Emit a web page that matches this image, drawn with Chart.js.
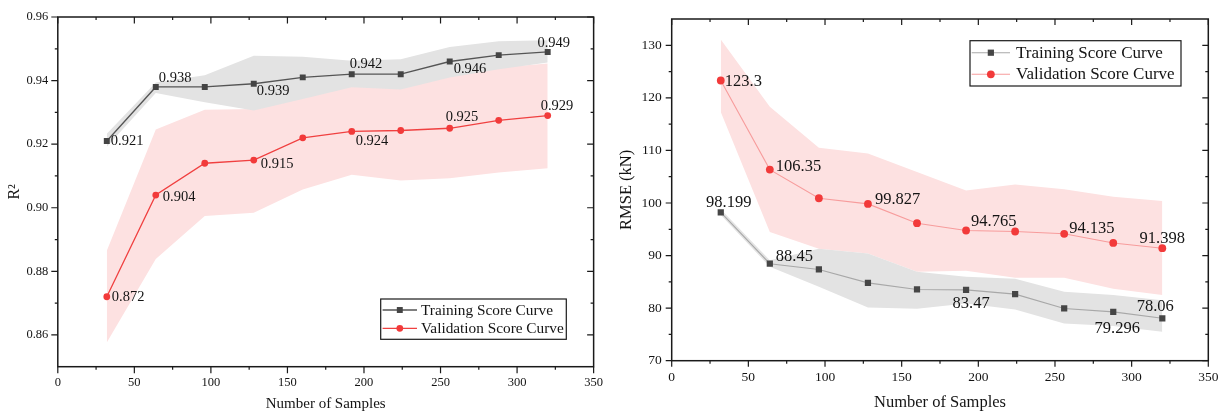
<!DOCTYPE html>
<html>
<head>
<meta charset="utf-8">
<script src="https://cdn.jsdelivr.net/npm/chart.js@4.4.0/dist/chart.umd.min.js"></script>
<style>
  html, body { margin: 0; padding: 0; background: #fff; }
  #wrap { position: relative; width: 1228px; height: 415px; overflow: hidden; background: #fff; }
  #c1 { position: absolute; left: 0; top: 0; }
  #c2 { position: absolute; left: 612px; top: 0; }
</style>
</head>
<body>
<div id="wrap">
  <canvas id="c1" width="612" height="415"></canvas>
  <canvas id="c2" width="616" height="415"></canvas>
</div>
<script>
// Training-set sizes used for the learning curves
const samples = [32, 64, 96, 128, 160, 192, 224, 256, 288, 320];

// R² learning curves (mean and band limits)
const trainR2      = [0.921, 0.938, 0.938, 0.939, 0.941, 0.942, 0.942, 0.946, 0.948, 0.949];
const trainR2Upper = [0.9233, 0.9394, 0.9417, 0.9478, 0.9475, 0.9462, 0.9467, 0.9506, 0.9524, 0.9527];
const trainR2Lower = [0.9192, 0.9361, 0.9332, 0.9306, 0.9342, 0.9379, 0.9372, 0.9410, 0.9436, 0.9457];
const valR2        = [0.872, 0.904, 0.914, 0.915, 0.922, 0.924, 0.9243, 0.925, 0.9275, 0.929];
const valR2Upper   = [0.8865, 0.9246, 0.9308, 0.9311, 0.9382, 0.9389, 0.9403, 0.9420, 0.9441, 0.9454];
const valR2Lower   = [0.8576, 0.8839, 0.8974, 0.8984, 0.9057, 0.9104, 0.9086, 0.9093, 0.9111, 0.9124];

// RMSE learning curves in kN (mean and band limits)
const trainRMSE      = [98.199, 88.45, 87.36, 84.8, 83.55, 83.47, 82.66, 79.94, 79.296, 78.06];
const trainRMSEUpper = [98.8, 89.1, 91.3, 90.4, 86.9, 85.95, 85.6, 83.1, 82.5, 81.5];
const trainRMSELower = [97.7, 87.85, 84.05, 80.1, 79.9, 80.9, 79.75, 77.1, 76.6, 75.5];
const valRMSE        = [123.3, 106.35, 100.9, 99.827, 96.16, 94.765, 94.58, 94.135, 92.4, 91.398];
const valRMSEUpper   = [131.1, 118.3, 110.5, 109.4, 105.9, 102.4, 103.5, 102.6, 101.2, 100.4];
const valRMSELower   = [117.3, 94.5, 91.3, 90.4, 86.9, 87.1, 85.8, 85.8, 83.7, 82.5];

// Axis tick values
const xTicks    = [0, 50, 100, 150, 200, 250, 300, 350];
const r2Ticks   = [0.86, 0.88, 0.90, 0.92, 0.94, 0.96];
const rmseTicks = [70, 80, 90, 100, 110, 120, 130];

const seriesNames = ['Training Score Curve', 'Validation Score Curve'];
const xTitle = 'Number of Samples';

const FONT = 'Liberation Serif';
const INK = '#141414';

function pts(ys) { return samples.map((x, i) => ({ x: x, y: ys[i] })); }
function mids(t) { const m = []; for (let i = 0; i < t.length - 1; i++) m.push((t[i] + t[i + 1]) / 2); return m; }

// Box frame with outward ticks on bottom/left and inward ticks on top/right
const framePlugin = {
  id: 'frame',
  afterDraw(chart, args, o) {
    const { ctx, chartArea: a, scales: { x, y } } = chart;
    ctx.save();
    ctx.strokeStyle = '#1a1a1a';
    ctx.lineWidth = o.lineWidth;
    ctx.strokeRect(a.left, a.top, a.right - a.left, a.bottom - a.top);
    ctx.lineWidth = 1.2;
    ctx.beginPath();
    const xm = (vals, len) => vals.forEach(v => {
      const px = x.getPixelForValue(v);
      if (px < a.left - 0.5 || px > a.right + 0.5) return;
      ctx.moveTo(px, a.bottom); ctx.lineTo(px, a.bottom + len);
      ctx.moveTo(px, a.top); ctx.lineTo(px, a.top + len);
    });
    const ym = (vals, len) => vals.forEach(v => {
      const py = y.getPixelForValue(v);
      if (py < a.top - 0.5 || py > a.bottom + 0.5) return;
      ctx.moveTo(a.left, py); ctx.lineTo(a.left - len, py);
      ctx.moveTo(a.right, py); ctx.lineTo(a.right - len, py);
    });
    xm(o.xMajor, o.major); xm(mids(o.xMajor), o.minor);
    ym(o.yMajor, o.major); ym(mids(o.yMajor), o.minor);
    ctx.stroke();
    ctx.restore();
  }
};

// Value labels next to selected points
const labelPlugin = {
  id: 'valueLabels',
  afterDatasetsDraw(chart, args, o) {
    const { ctx } = chart;
    ctx.save();
    ctx.fillStyle = INK;
    ctx.font = o.size + 'px "' + FONT + '"';
    ctx.textBaseline = 'middle';
    o.sets.forEach((spec, di) => {
      const meta = chart.getDatasetMeta(di);
      const data = chart.data.datasets[di].data;
      Object.keys(spec).forEach(k => {
        const i = +k, s = spec[k];
        const el = meta.data[i];
        ctx.textAlign = s.align || 'left';
        ctx.fillText(String(data[i].y), el.x + s.dx, el.y + s.dy);
      });
    });
    ctx.restore();
  }
};

// Boxed legend inside the plot
const legendPlugin = {
  id: 'boxLegend',
  afterDraw(chart, args, o) {
    const { ctx } = chart;
    ctx.save();
    ctx.fillStyle = '#fff';
    ctx.fillRect(o.x, o.y, o.w, o.h);
    ctx.strokeStyle = '#1a1a1a';
    ctx.lineWidth = 1.2;
    ctx.strokeRect(o.x, o.y, o.w, o.h);
    ctx.font = o.size + 'px "' + FONT + '"';
    ctx.textBaseline = 'middle';
    ctx.textAlign = 'left';
    [0, 1].forEach(di => {
      const ds = chart.data.datasets[di];
      const ry = o.rows[di];
      ctx.strokeStyle = ds.borderColor;
      ctx.lineWidth = ds.borderWidth;
      ctx.beginPath();
      ctx.moveTo(o.lineX0, ry); ctx.lineTo(o.lineX1, ry);
      ctx.stroke();
      ctx.fillStyle = ds.pointBackgroundColor;
      const mx = (o.lineX0 + o.lineX1) / 2;
      ctx.beginPath();
      if (ds.pointStyle === 'rect') {
        const h = ds.pointRadius * Math.SQRT1_2;
        ctx.rect(mx - h, ry - h, 2 * h, 2 * h);
      } else {
        ctx.arc(mx, ry, ds.pointRadius, 0, Math.PI * 2);
      }
      ctx.fill();
      ctx.fillStyle = INK;
      ctx.fillText(ds.label, o.textX, ry + 0.5);
    });
    ctx.restore();
  }
};

function makeChart(id, cfg) {
  const tickFont = { family: FONT, size: cfg.tickSize };
  return new Chart(document.getElementById(id), {
    type: 'line',
    data: {
      datasets: [
        { label: seriesNames[0], data: pts(cfg.train), borderColor: cfg.trainLine, borderWidth: cfg.lineWidth,
          pointStyle: 'rect', pointRadius: cfg.rectR, pointBackgroundColor: cfg.trainMark, pointBorderWidth: 0,
          fill: false, tension: 0 },
        { label: seriesNames[1], data: pts(cfg.val), borderColor: cfg.valLine, borderWidth: cfg.lineWidth,
          pointStyle: 'circle', pointRadius: cfg.circR, pointBackgroundColor: cfg.valMark, pointBorderWidth: 0,
          fill: false, tension: 0 },
        { label: 'trainUpper', data: pts(cfg.trainUp), borderWidth: 0, borderColor: 'rgba(0,0,0,0)',
          pointRadius: 0, fill: '+1', backgroundColor: '#e3e3e3', tension: 0 },
        { label: 'trainLower', data: pts(cfg.trainLo), borderWidth: 0, borderColor: 'rgba(0,0,0,0)',
          pointRadius: 0, fill: false, tension: 0 },
        { label: 'valUpper', data: pts(cfg.valUp), borderWidth: 0, borderColor: 'rgba(0,0,0,0)',
          pointRadius: 0, fill: '+1', backgroundColor: '#fde1e1', tension: 0 },
        { label: 'valLower', data: pts(cfg.valLo), borderWidth: 0, borderColor: 'rgba(0,0,0,0)',
          pointRadius: 0, fill: false, tension: 0 }
      ]
    },
    options: {
      responsive: false,
      animation: false,
      devicePixelRatio: 1,
      layout: { padding: { top: cfg.padTop, right: cfg.padRight, left: 0, bottom: 0 } },
      plugins: {
        legend: { display: false },
        tooltip: { enabled: false },
        frame: { lineWidth: 1.5, major: cfg.majorLen, minor: 3, xMajor: xTicks, yMajor: cfg.yTicks },
        valueLabels: { size: cfg.labelSize, sets: [cfg.trainLabels, cfg.valLabels] },
        boxLegend: cfg.legend
      },
      scales: {
        x: {
          type: 'linear', min: 0, max: 350,
          afterBuildTicks: s => { s.ticks = xTicks.map(v => ({ value: v })); },
          afterFit: s => { s.height = cfg.xHeight; },
          grid: { display: false, drawTicks: false },
          border: { display: false },
          ticks: { font: tickFont, color: INK, padding: cfg.xPad, maxRotation: 0, autoSkip: false,
                   callback: v => String(v) },
          title: { display: true, text: xTitle, color: INK, font: { family: FONT, size: cfg.titleSize },
                   padding: { top: 0, bottom: cfg.xTitlePad } }
        },
        y: {
          type: 'linear', min: cfg.yMin, max: cfg.yMax,
          afterBuildTicks: s => { s.ticks = cfg.yTicks.map(v => ({ value: v })); },
          afterFit: s => { s.width = cfg.yWidth; },
          grid: { display: false, drawTicks: false },
          border: { display: false },
          ticks: { font: tickFont, color: INK, padding: cfg.yPad, autoSkip: false,
                   callback: v => v.toFixed(cfg.yDigits) },
          title: { display: true, text: cfg.yTitle, color: INK, font: { family: FONT, size: cfg.yTitleSize },
                   padding: { top: cfg.yTitlePad, bottom: 0 } }
        }
      }
    },
    plugins: [framePlugin, labelPlugin, legendPlugin]
  });
}

makeChart('c1', {
  train: trainR2, val: valR2, trainUp: trainR2Upper, trainLo: trainR2Lower, valUp: valR2Upper, valLo: valR2Lower,
  trainLine: '#555555', valLine: '#f04040', trainMark: '#444444', valMark: '#f23a3a',
  lineWidth: 1.3, rectR: 4.2, circR: 3.4,
  yMin: 0.85, yMax: 0.96, yTicks: r2Ticks, yDigits: 2,
  yTitle: 'R²',
  tickSize: 12.5, titleSize: 15, yTitleSize: 16, labelSize: 14.5, majorLen: 6.5,
  padTop: 14, padRight: 15.7, xHeight: 48.3, yWidth: 57.8,
  xPad: 9, yPad: 9.5, xTitlePad: 2, yTitlePad: 5,
  trainLabels: { 0: { dx: 4, dy: 0 }, 1: { dx: 3, dy: -9 }, 3: { dx: 3, dy: 7 }, 5: { dx: -2, dy: -10 },
                 7: { dx: 4, dy: 8 }, 9: { dx: 6, dy: -9, align: 'center' } },
  valLabels: { 0: { dx: 5, dy: 0 }, 1: { dx: 7, dy: 2 }, 3: { dx: 7, dy: 4 }, 5: { dx: 4, dy: 10 },
               7: { dx: -4, dy: -11 }, 9: { dx: -7, dy: -9 } },
  legend: { x: 380.7, y: 299, w: 185.6, h: 40.3, lineX0: 382.6, lineX1: 417, textX: 421, rows: [310, 328.3], size: 15.3 }
});

makeChart('c2', {
  train: trainRMSE, val: valRMSE, trainUp: trainRMSEUpper, trainLo: trainRMSELower, valUp: valRMSEUpper, valLo: valRMSELower,
  trainLine: '#a8a8a8', valLine: '#f79c9c', trainMark: '#464646', valMark: '#f23a3a',
  lineWidth: 1.1, rectR: 4.4, circR: 3.9,
  yMin: 70, yMax: 135, yTicks: rmseTicks, yDigits: 0,
  yTitle: 'RMSE (kN)',
  tickSize: 13.5, titleSize: 16.5, yTitleSize: 16.5, labelSize: 16.5, majorLen: 6,
  padTop: 19, padRight: 19.7, xHeight: 54.3, yWidth: 59.7,
  xPad: 9, yPad: 10, xTitlePad: 2, yTitlePad: 5,
  trainLabels: { 0: { dx: 8, dy: -10, align: 'center' }, 1: { dx: 6, dy: -7 }, 5: { dx: 5, dy: 14, align: 'center' },
                 8: { dx: 4, dy: 17, align: 'center' }, 9: { dx: -7, dy: -12, align: 'center' } },
  valLabels: { 0: { dx: 4, dy: 1 }, 1: { dx: 6, dy: -3 }, 3: { dx: 7, dy: -4 }, 5: { dx: 5, dy: -9 },
               7: { dx: 5, dy: -5 }, 9: { dx: 0, dy: -10, align: 'center' } },
  legend: { x: 358, y: 40.7, w: 211, h: 45.3, lineX0: 359.7, lineX1: 398, textX: 404, rows: [52.7, 74.3], size: 17 }
});
</script>
</body>
</html>
